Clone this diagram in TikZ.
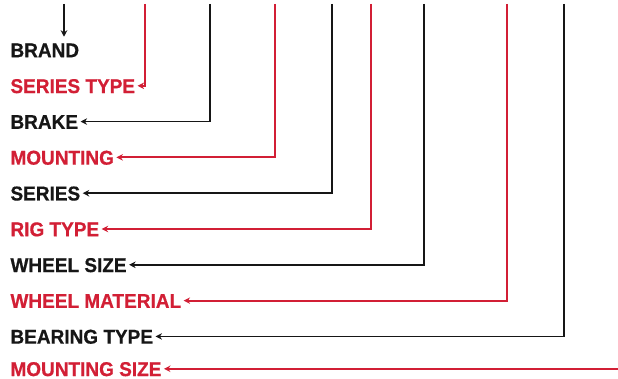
\documentclass[tikz,border=0pt]{standalone}
\usepackage{fontspec}
\usetikzlibrary{arrows.meta}
\newfontfamily\lblfont{Liberation Sans}[FakeStretch=0.95,FakeBold=0.6]
\definecolor{cred}{HTML}{D21F35}
\definecolor{cblk}{HTML}{161616}
\tikzset{
  lbl/.style={anchor=west, inner sep=0pt, outer xsep=2.5pt, outer ysep=6pt,
    text height=14.5pt, text depth=0pt, font=\lblfont\bfseries\fontsize{20}{20}\selectfont},
  blk/.style={text=cblk},
  red/.style={text=cred},
  lnk/.style={line width=1.8pt, -{Stealth[length=6.5pt,width=6.5pt]}},
  lblk/.style={lnk, draw=cblk},
  lred/.style={lnk, draw=cred},
}
\begin{document}
\begin{tikzpicture}[x=1pt,y=-1pt]
\useasboundingbox (0,0) rectangle (618,379);
\node[lbl,blk] (brand) at (8,50) {BRAND};
\node[lbl,red] (stype) at (8,85.8) {SERIES TYPE};
\node[lbl,blk] (brake) at (8,121.6) {BRAKE};
\node[lbl,red] (mount) at (8,157.4) {MOUNTING};
\node[lbl,blk] (series) at (8,193.2) {SERIES};
\node[lbl,red] (rig) at (8,229) {RIG TYPE};
\node[lbl,blk] (wsize) at (8,264.8) {WHEEL SIZE};
\node[lbl,red] (wmat) at (8,300.6) {WHEEL MATERIAL};
\node[lbl,blk] (bear) at (8,336.4) {BEARING TYPE};
\node[lbl,red] (msize) at (8,368.8) {MOUNTING SIZE};
\coordinate (t1) at (64,4);
\coordinate (t2) at (145,4);
\coordinate (t3) at (210,4);
\coordinate (t4) at (275,4);
\coordinate (t5) at (332,4);
\coordinate (t6) at (371,4);
\coordinate (t7) at (424,4);
\coordinate (t8) at (507,4);
\coordinate (t9) at (564,4);
\coordinate (t10) at (620,368.8);
\draw[lblk] (t1) -- (t1 |- brand.north);
\draw[lred] (t2) |- (stype.east);
\draw[lblk] (t3) |- (brake.east);
\draw[lred] (t4) |- (mount.east);
\draw[lblk] (t5) |- (series.east);
\draw[lred] (t6) |- (rig.east);
\draw[lblk] (t7) |- (wsize.east);
\draw[lred] (t8) |- (wmat.east);
\draw[lblk] (t9) |- (bear.east);
\draw[lred] (t10) -- (msize.east);
\end{tikzpicture}
\end{document}
